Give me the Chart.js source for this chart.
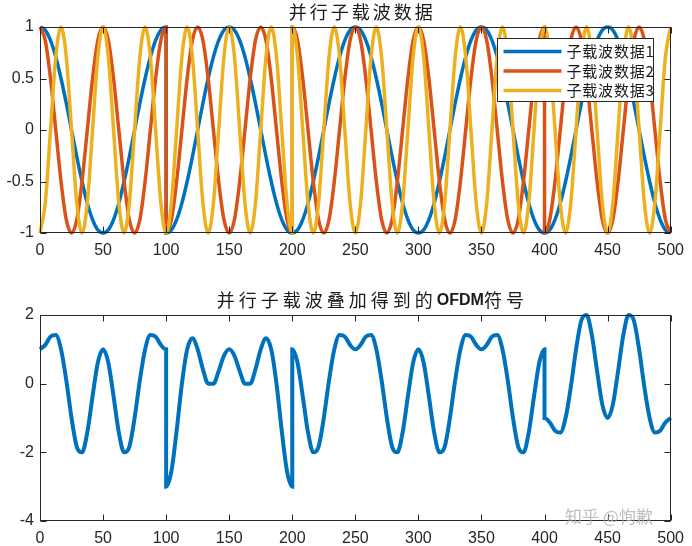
<!DOCTYPE html>
<html>
<head>
<meta charset="utf-8">
<script src="https://cdn.jsdelivr.net/npm/chart.js@4.4.1/dist/chart.umd.min.js"></script>
<style>
body { margin: 0; background: #fff; }
#wrap { position: relative; width: 692px; height: 546px; }
canvas { position: absolute; left: 0; }
#topChart { top: 0; }
#bottomChart { top: 262px; }
</style>
</head>
<body>
<div id="wrap">
<canvas id="topChart" width="692" height="262"></canvas>
<canvas id="bottomChart" width="692" height="284"></canvas>
</div>
<script>
// sample positions: each data symbol lasts 100 samples, read at 24 points per symbol
var segStarts = [0, 100, 200, 300, 400];
var segOffsets = [0, 4.17, 8.33, 12.5, 16.67, 20.83, 25, 29.17, 33.33, 37.5, 41.67, 45.83, 50,
    54.17, 58.33, 62.5, 66.67, 70.83, 75, 79.17, 83.33, 87.5, 91.67, 95.83, 100];

var xTicks = [0, 50, 100, 150, 200, 250, 300, 350, 400, 450, 500];
var topYTicks = [-1, -0.5, 0, 0.5, 1];
var bottomYTicks = [-4, -2, 0, 2];

var seriesNames = ["子载波数据1", "子载波数据2", "子载波数据3"];

// 子载波数据1 (one cycle per symbol)
var carrier1 = [
    1, .97, .87, .71, .5, .26, 0, -.26, -.5, -.71, -.87, -.97, -1, -.97, -.87, -.71, -.5, -.26, 0, .26, .5, .71, .87, .97, 1,
    -1, -.97, -.87, -.71, -.5, -.26, 0, .26, .5, .71, .87, .97, 1, .97, .87, .71, .5, .26, 0, -.26, -.5, -.71, -.87, -.97, -1,
    -1, -.97, -.87, -.71, -.5, -.26, 0, .26, .5, .71, .87, .97, 1, .97, .87, .71, .5, .26, 0, -.26, -.5, -.71, -.87, -.97, -1,
    -1, -.97, -.87, -.71, -.5, -.26, 0, .26, .5, .71, .87, .97, 1, .97, .87, .71, .5, .26, 0, -.26, -.5, -.71, -.87, -.97, -1,
    -1, -.97, -.87, -.71, -.5, -.26, 0, .26, .5, .71, .87, .97, 1, .97, .87, .71, .5, .26, 0, -.26, -.5, -.71, -.87, -.97, -1
];

// 子载波数据2 (two cycles per symbol)
var carrier2 = [
    1, .87, .5, 0, -.5, -.87, -1, -.87, -.5, 0, .5, .87, 1, .87, .5, 0, -.5, -.87, -1, -.87, -.5, 0, .5, .87, 1,
    -1, -.87, -.5, 0, .5, .87, 1, .87, .5, 0, -.5, -.87, -1, -.87, -.5, 0, .5, .87, 1, .87, .5, 0, -.5, -.87, -1,
    1, .87, .5, 0, -.5, -.87, -1, -.87, -.5, 0, .5, .87, 1, .87, .5, 0, -.5, -.87, -1, -.87, -.5, 0, .5, .87, 1,
    1, .87, .5, 0, -.5, -.87, -1, -.87, -.5, 0, .5, .87, 1, .87, .5, 0, -.5, -.87, -1, -.87, -.5, 0, .5, .87, 1,
    -1, -.87, -.5, 0, .5, .87, 1, .87, .5, 0, -.5, -.87, -1, -.87, -.5, 0, .5, .87, 1, .87, .5, 0, -.5, -.87, -1
];

// 子载波数据3 (three cycles per symbol)
var carrier3 = [
    -1, -.71, 0, .71, 1, .71, 0, -.71, -1, -.71, 0, .71, 1, .71, 0, -.71, -1, -.71, 0, .71, 1, .71, 0, -.71, -1,
    -1, -.71, 0, .71, 1, .71, 0, -.71, -1, -.71, 0, .71, 1, .71, 0, -.71, -1, -.71, 0, .71, 1, .71, 0, -.71, -1,
    1, .71, 0, -.71, -1, -.71, 0, .71, 1, .71, 0, -.71, -1, -.71, 0, .71, 1, .71, 0, -.71, -1, -.71, 0, .71, 1,
    1, .71, 0, -.71, -1, -.71, 0, .71, 1, .71, 0, -.71, -1, -.71, 0, .71, 1, .71, 0, -.71, -1, -.71, 0, .71, 1,
    1, .71, 0, -.71, -1, -.71, 0, .71, 1, .71, 0, -.71, -1, -.71, 0, .71, 1, .71, 0, -.71, -1, -.71, 0, .71, 1
];

// OFDM符号 (bottom panel)
var ofdmSymbol = [
    1, 1.13, 1.37, 1.42, 1, .1, -1, -1.84, -2, -1.42, -.37, .61, 1, .61, -.37, -1.42, -2, -1.84, -1, .1, 1, 1.42, 1.37, 1.13, 1,
    -3, -2.55, -1.37, 0, 1, 1.32, 1, .42, 0, 0, .37, .81, 1, .81, .37, 0, 0, .42, 1, 1.32, 1, 0, -1.37, -2.55, -3,
    1, .61, -.37, -1.42, -2, -1.84, -1, .1, 1, 1.42, 1.37, 1.13, 1, 1.13, 1.37, 1.42, 1, .1, -1, -1.84, -2, -1.42, -.37, .61, 1,
    1, .61, -.37, -1.42, -2, -1.84, -1, .1, 1, 1.42, 1.37, 1.13, 1, 1.13, 1.37, 1.42, 1, .1, -1, -1.84, -2, -1.42, -.37, .61, 1,
    -1, -1.13, -1.37, -1.42, -1, -.1, 1, 1.84, 2, 1.42, .37, -.61, -1, -.61, .37, 1.42, 2, 1.84, 1, -.1, -1, -1.42, -1.37, -1.13, -1
];

var colors = ["#0072BD", "#D95319", "#EDB120"];
var axisColor = "#262626";
var cjkFont = '"Noto Sans CJK SC", "Noto Sans", sans-serif';
var numFont = '"Liberation Sans", Arial, sans-serif';

Chart.defaults.font.family = numFont;
Chart.defaults.font.size = 16;
Chart.defaults.color = axisColor;

function toPoints(values) {
    var pts = [];
    for (var s = 0; s < segStarts.length; s++) {
        for (var j = 0; j < segOffsets.length; j++) {
            pts.push({ x: segStarts[s] + segOffsets[j], y: values[s * segOffsets.length + j] });
        }
    }
    return pts;
}

// box round the axes with inward ticks on all four sides, like matlab
var framePlugin = {
    id: "frame",
    afterDraw: function (chart) {
        var ctx = chart.ctx;
        var a = chart.chartArea;
        var xs = chart.scales.x, ys = chart.scales.y;
        var L = Math.round(a.left) + 0.5, R = Math.round(a.right) - 0.5;
        var T = Math.round(a.top) + 0.5, B = Math.round(a.bottom) - 0.5;
        ctx.save();
        ctx.strokeStyle = axisColor;
        ctx.lineWidth = 1;
        ctx.strokeRect(L, T, R - L, B - T);
        ctx.beginPath();
        xs.ticks.forEach(function (t) {
            var px = Math.round(xs.getPixelForValue(t.value)) + 0.5;
            ctx.moveTo(px, B); ctx.lineTo(px, B - 6);
            ctx.moveTo(px, T); ctx.lineTo(px, T + 6);
        });
        ys.ticks.forEach(function (t) {
            var py = Math.round(ys.getPixelForValue(t.value)) + 0.5;
            ctx.moveTo(L, py); ctx.lineTo(L + 6, py);
            ctx.moveTo(R, py); ctx.lineTo(R - 6, py);
        });
        ctx.stroke();
        ctx.restore();
    }
};

// title drawn as pieces so OFDM can be bold latin
function drawTitle(chart, parts, cy, shift) {
    var ctx = chart.ctx;
    var a = chart.chartArea;
    ctx.save();
    ctx.fillStyle = "#1a1a1a";
    ctx.textBaseline = "middle";
    var total = 0;
    parts.forEach(function (p) {
        ctx.font = p.font;
        ctx.letterSpacing = p.spacing;
        p.w = ctx.measureText(p.text).width;
        total += p.w;
    });
    var x = (a.left + a.right) / 2 + shift - total / 2;
    parts.forEach(function (p) {
        ctx.font = p.font;
        ctx.letterSpacing = p.spacing;
        ctx.fillText(p.text, x, cy + (p.dy || 0));
        x += p.w;
    });
    ctx.restore();
}

var topTitlePlugin = {
    id: "topTitle",
    afterDraw: function (chart) {
        drawTitle(chart, [{ text: "并行子载波数据", font: "18px " + cjkFont, spacing: "3px" }], 12, 7);
    }
};

var bottomTitlePlugin = {
    id: "bottomTitle",
    afterDraw: function (chart) {
        drawTitle(chart, [
            { text: "并行子载波叠加得到的", font: "18px " + cjkFont, spacing: "4px" },
            { text: "OFDM", font: "bold 16px " + numFont, spacing: "0px", dy: 1 },
            { text: "符号", font: "18px " + cjkFont, spacing: "4px" }
        ], 38, 17);
        // watermark
        var ctx = chart.ctx;
        ctx.save();
        ctx.font = "17px " + cjkFont;
        ctx.fillStyle = "rgba(170,170,170,0.75)";
        ctx.textBaseline = "middle";
        ctx.fillText("知乎 @恂歉", 565, 255);
        ctx.restore();
    }
};

var legendPlugin = {
    id: "boxLegend",
    afterDatasetsDraw: function (chart) {
        var ctx = chart.ctx;
        var a = chart.chartArea;
        var x0 = Math.round(a.right) - 17.5, y0 = Math.round(a.top) + 11.5;
        var w = 156, h = 63;
        ctx.save();
        ctx.fillStyle = "#fff";
        ctx.fillRect(x0 - w, y0, w, h);
        ctx.strokeStyle = axisColor;
        ctx.lineWidth = 1;
        ctx.strokeRect(x0 - w, y0, w, h);
        ctx.font = "15px " + cjkFont;
        ctx.letterSpacing = "0.8px";
        ctx.textBaseline = "middle";
        seriesNames.forEach(function (name, i) {
            var cy = y0 + 13 + i * 19.5;
            ctx.strokeStyle = colors[i];
            ctx.lineWidth = 3.5;
            ctx.beginPath();
            ctx.moveTo(x0 - w + 6, cy);
            ctx.lineTo(x0 - w + 64, cy);
            ctx.stroke();
            ctx.fillStyle = "#1a1a1a";
            ctx.fillText(name, x0 - w + 69, cy);
        });
        ctx.restore();
    }
};

function xScale(h) {
    return {
        type: "linear", min: 0, max: 500,
        grid: { display: false, drawTicks: false },
        border: { display: false },
        ticks: { padding: 8, maxRotation: 0, autoSkip: false },
        afterBuildTicks: function (s) { s.ticks = xTicks.map(function (v) { return { value: v }; }); },
        afterFit: function (s) { s.height = h; }
    };
}

function yScale(lo, hi, tickVals) {
    return {
        type: "linear", min: lo, max: hi,
        grid: { display: false, drawTicks: false },
        border: { display: false },
        ticks: { padding: 6, callback: function (v) { return String(v); } },
        afterBuildTicks: function (s) { s.ticks = tickVals.map(function (v) { return { value: v }; }); },
        afterFit: function (s) { s.width = 40; }
    };
}

var lineStyle = {
    pointRadius: 0,
    fill: false,
    cubicInterpolationMode: "monotone",
    clip: 3
};

var topChart = new Chart(document.getElementById("topChart"), {
    type: "line",
    data: {
        datasets: [
            Object.assign({ label: seriesNames[0], data: toPoints(carrier1), borderColor: colors[0], borderWidth: 3.5, order: 2 }, lineStyle),
            Object.assign({ label: seriesNames[1], data: toPoints(carrier2), borderColor: colors[1], borderWidth: 3.5, order: 1 }, lineStyle),
            Object.assign({ label: seriesNames[2], data: toPoints(carrier3), borderColor: colors[2], borderWidth: 3.5, order: 0 }, lineStyle)
        ]
    },
    options: {
        responsive: false,
        animation: false,
        devicePixelRatio: 1,
        layout: { padding: { left: 0, top: 27, right: 17, bottom: 0 } },
        plugins: { legend: { display: false }, title: { display: false }, tooltip: { enabled: false } },
        scales: { x: xScale(29), y: yScale(-1, 1, topYTicks) }
    },
    plugins: [legendPlugin, framePlugin, topTitlePlugin]
});

var bottomChart = new Chart(document.getElementById("bottomChart"), {
    type: "line",
    data: {
        datasets: [
            Object.assign({ label: "OFDM符号", data: toPoints(ofdmSymbol), borderColor: colors[0], borderWidth: 4 }, lineStyle)
        ]
    },
    options: {
        responsive: false,
        animation: false,
        devicePixelRatio: 1,
        layout: { padding: { left: 0, top: 53, right: 17, bottom: 0 } },
        plugins: { legend: { display: false }, title: { display: false }, tooltip: { enabled: false } },
        scales: { x: xScale(25), y: yScale(-4, 2, bottomYTicks) }
    },
    plugins: [framePlugin, bottomTitlePlugin]
});
</script>
</body>
</html>
